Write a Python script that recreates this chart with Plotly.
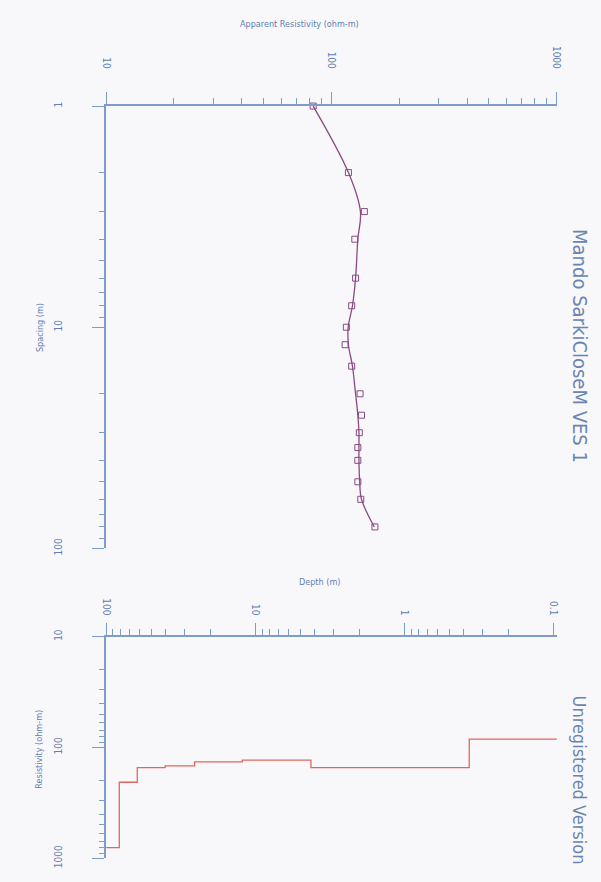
import plotly.graph_objects as go

# ---------------- data ----------------
spacing = [1, 2, 3, 4, 6, 8, 10, 12, 15, 20, 25, 30, 35, 40, 50, 60, 80]
apparent_rho = [83, 119, 140, 127, 128, 123, 116.5, 115, 123, 134, 136, 133, 131, 131, 131, 135, 156]

model_spacing = [1, 2, 3, 4, 6, 8, 10, 12, 15, 20, 25, 30, 35, 40, 50, 60, 80]
model_rho = [83, 119, 134.5, 131, 128, 124, 118.7, 119, 124, 128, 131, 132.5, 132.5, 132.5, 133.5, 136, 155]

layer_depth = [0.09, 0.367, 4.23, 12.2, 25.5, 40.2, 61.8, 81.6, 100]
layer_rho = [84, 152, 130, 135, 146.5, 152, 206, 800, 800]

rho_major = [10, 100, 1000]
rho_major_text = ["10", "100", "1000"]
rho_minor = [20, 30, 40, 50, 60, 70, 80, 90, 200, 300, 400, 500, 600, 700, 800, 900]
sp_major = [1, 10, 100]
sp_major_text = ["1", "10", "100"]
sp_minor = [2, 3, 4, 5, 6, 7, 8, 9, 20, 30, 40, 50, 60, 70, 80, 90]
depth_major = [100, 10, 1, 0.1]
depth_major_text = ["100", "10", "1", "0.1"]
depth_minor = [20, 30, 40, 50, 60, 70, 80, 90, 2, 3, 4, 5, 6, 7, 8, 9,
               0.2, 0.3, 0.4, 0.5, 0.6, 0.7, 0.8, 0.9]

# ---------------- style ----------------
AX = "#7f9cc8"
TXT = "#5f80b4"
FONT = "Liberation Sans Narrow, DejaVu Sans Condensed, Arial Narrow, Roboto, sans-serif"
CURVE = "#8a4a86"
STEP = "#e0665f"
W, H = 601, 882

xdom = [103 / W, 562 / W]
top_dom = [(H - 552) / H, (H - 101) / H]
bot_dom = [(H - 868) / H, (H - 642) / H]

fig = go.Figure()

fig.add_trace(go.Scatter(x=model_rho, y=model_spacing, mode="lines",
                         line=dict(color=CURVE, width=1.3, shape="spline"),
                         xaxis="x", yaxis="y", hoverinfo="skip", showlegend=False))
fig.add_trace(go.Scatter(x=apparent_rho, y=spacing, mode="markers",
                         marker=dict(symbol="square-open", size=6, color=CURVE,
                                     line=dict(width=1, color=CURVE)),
                         cliponaxis=False, xaxis="x", yaxis="y", showlegend=False))
fig.add_trace(go.Scatter(x=layer_depth, y=layer_rho, mode="lines",
                         line=dict(color=STEP, width=1.3, shape="hv"),
                         xaxis="x3", yaxis="y3", showlegend=False))

tickfont = dict(family=FONT, size=10, color=TXT)


def main_axis(**kw):
    d = dict(type="log", showgrid=False, zeroline=False, showline=True,
             linecolor=AX, linewidth=1.5, ticks="outside", ticklen=12,
             tickwidth=1, tickcolor=AX, tickfont=tickfont, tickmode="array")
    d.update(kw)
    return d


def mirror_axis(**kw):
    d = dict(type="log", showgrid=False, zeroline=False, showline=True,
             linecolor=AX, linewidth=1.5, ticks="inside", ticklen=12,
             tickwidth=1, tickcolor=AX, showticklabels=False, tickmode="array")
    d.update(kw)
    return d


fig.update_layout(
    width=W, height=H,
    margin=dict(l=0, r=0, t=0, b=0),
    paper_bgcolor="#f8f8fa", plot_bgcolor="rgba(0,0,0,0)",
    showlegend=False,
    xaxis=main_axis(domain=xdom, anchor="y", side="top", range=[1, 3],
                    tickvals=rho_major, ticktext=rho_major_text, tickangle=90,
                    ticklabelstandoff=20,
                    minor=dict(tickmode="array", tickvals=rho_minor, ticks="outside",
                               ticklen=6, tickcolor=AX, showgrid=False)),
    xaxis2=mirror_axis(domain=xdom, anchor="y", overlaying="x", side="bottom",
                       range=[1, 3], tickvals=[100]),
    yaxis=main_axis(domain=top_dom, anchor="x", side="left", range=[2, 0],
                    tickvals=sp_major, ticktext=sp_major_text, tickangle=-90,
                    ticklabelstandoff=26,
                    minor=dict(tickmode="array", tickvals=sp_minor, ticks="outside",
                               ticklen=5, tickcolor=AX, showgrid=False)),
    yaxis2=mirror_axis(domain=top_dom, anchor="x", overlaying="y", side="right",
                       range=[2, 0], tickvals=[10]),
    xaxis3=main_axis(domain=xdom, anchor="y3", side="top", range=[2, -1.022],
                     tickvals=depth_major, ticktext=depth_major_text, tickangle=90,
                     ticklabelstandoff=4,
                     minor=dict(tickmode="array", tickvals=depth_minor, ticks="outside",
                                ticklen=6, tickcolor=AX, showgrid=False)),
    xaxis4=mirror_axis(domain=xdom, anchor="y3", overlaying="x3", side="bottom",
                       range=[2, -1.022], tickvals=[10, 1]),
    yaxis3=main_axis(domain=bot_dom, anchor="x3", side="left", range=[3, 1],
                     tickvals=rho_major, ticktext=rho_major_text, tickangle=-90,
                     ticklabelstandoff=26,
                     minor=dict(tickmode="array", tickvals=rho_minor, ticks="outside",
                                ticklen=5, tickcolor=AX, showgrid=False)),
    yaxis4=mirror_axis(domain=bot_dom, anchor="x3", overlaying="y3", side="right",
                       range=[3, 1], tickvals=[100]),
)

ann_font = dict(family=FONT, size=9, color=TXT)
common = dict(xref="paper", yref="paper", showarrow=False,
              xanchor="center", yanchor="middle")
fig.add_annotation(text="Apparent Resistivity (ohm-m)", x=300 / W, y=(H - 17) / H,
                   font=ann_font, **common)
fig.add_annotation(text="Depth (m)", x=320 / W, y=(H - 586) / H,
                   font=ann_font, **common)
fig.add_annotation(text="Spacing (m)", x=35 / W, y=(H - 327) / H, textangle=-90,
                   font=ann_font, **common)
fig.add_annotation(text="Resistivity (ohm-m)", x=35 / W, y=(H - 757) / H, textangle=-90,
                   font=ann_font, **common)
fig.add_annotation(text="Mando SarkiCloseM VES 1", x=585 / W, y=(H - 346) / H, textangle=90,
                   font=dict(family=FONT, size=20, color="#6a86b0"), **common)
fig.add_annotation(text="Unregistered Version", x=585 / W, y=(H - 788) / H, textangle=90,
                   font=dict(family=FONT, size=18, color="#6a86b0"), **common)

fig.write_html("out.html",
               config={"displayModeBar": False},
               post_script="document.body.style.margin='0';"
                           "document.documentElement.style.overflow='hidden';"
                           "document.body.style.overflow='hidden';")
